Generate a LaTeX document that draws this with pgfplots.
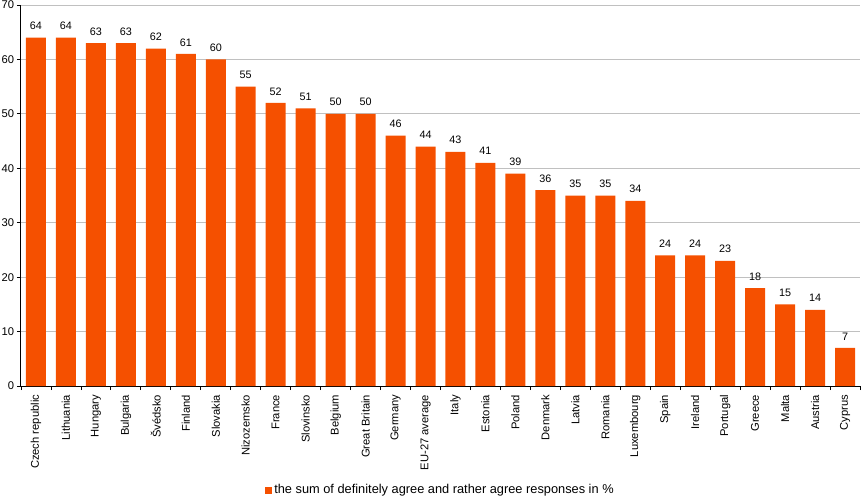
\documentclass[border=0pt]{standalone}
\usepackage{fontspec}
\setmainfont{Liberation Sans}
\usepackage{pgfplots}
\pgfplotsset{compat=1.18}
\definecolor{barcol}{RGB}{245,80,0}
\definecolor{gridcol}{RGB}{192,192,192}
\begin{document}
\fontsize{11}{13}\selectfont
\begin{tikzpicture}
\useasboundingbox (-21pt,-113pt) rectangle (840pt,386pt);
\begin{axis}[
    scale only axis,
    width=839pt, height=381pt,
    xmin=-0.5, xmax=27.5,
    ymin=0, ymax=70,
    ytick={0,10,...,70},
    xtick={-0.5,0.5,...,27.5},
    x tick label as interval,
    xticklabels={Czech republic,Lithuania,Hungary,Bulgaria,Švédsko,Finland,Slovakia,Nizozemsko,France,Slovinsko,Belgium,Great Britain,Germany,EU-27 average,Italy,Estonia,Poland,Denmark,Latvia,Romania,Luxembourg,Spain,Ireland,Portugal,Greece,Malta,Austria,Cyprus},
    x tick label style={rotate=90, anchor=east, xshift=-1pt},
    tick align=outside,
    major tick length=4pt,
    tick style={black, line width=0.8pt},
    axis x line*=bottom,
    axis y line*=left,
    axis line style={black, line width=1pt},
    ymajorgrids,
    major grid style={gridcol, line width=0.8pt},
    /pgf/number format/assume math mode=true,
    ticklabel style={font=\fontsize{11.2}{13}\selectfont},
    yticklabel style={xshift=1pt},
    nodes near coords,
    nodes near coords style={font=\fontsize{10.8}{12}\selectfont, yshift=4pt},
    legend style={at={(0.5,-0.273)}, anchor=center, draw=none, fill=none,
        font=\fontsize{12.8}{14}\selectfont, inner sep=0pt},
    legend image code/.code={\fill[barcol] (1pt,-3.5pt) rectangle (8pt,3.5pt);},
]
\addplot[ybar, bar width=20pt, fill=barcol, draw=none] coordinates {
(0,64) (1,64) (2,63) (3,63) (4,62) (5,61) (6,60) (7,55) (8,52) (9,51)
(10,50) (11,50) (12,46) (13,44) (14,43) (15,41) (16,39) (17,36) (18,35) (19,35)
(20,34) (21,24) (22,24) (23,23) (24,18) (25,15) (26,14) (27,7)};
\addlegendentry{the sum of definitely agree and rather agree responses in \%}
\end{axis}
\end{tikzpicture}
\end{document}
